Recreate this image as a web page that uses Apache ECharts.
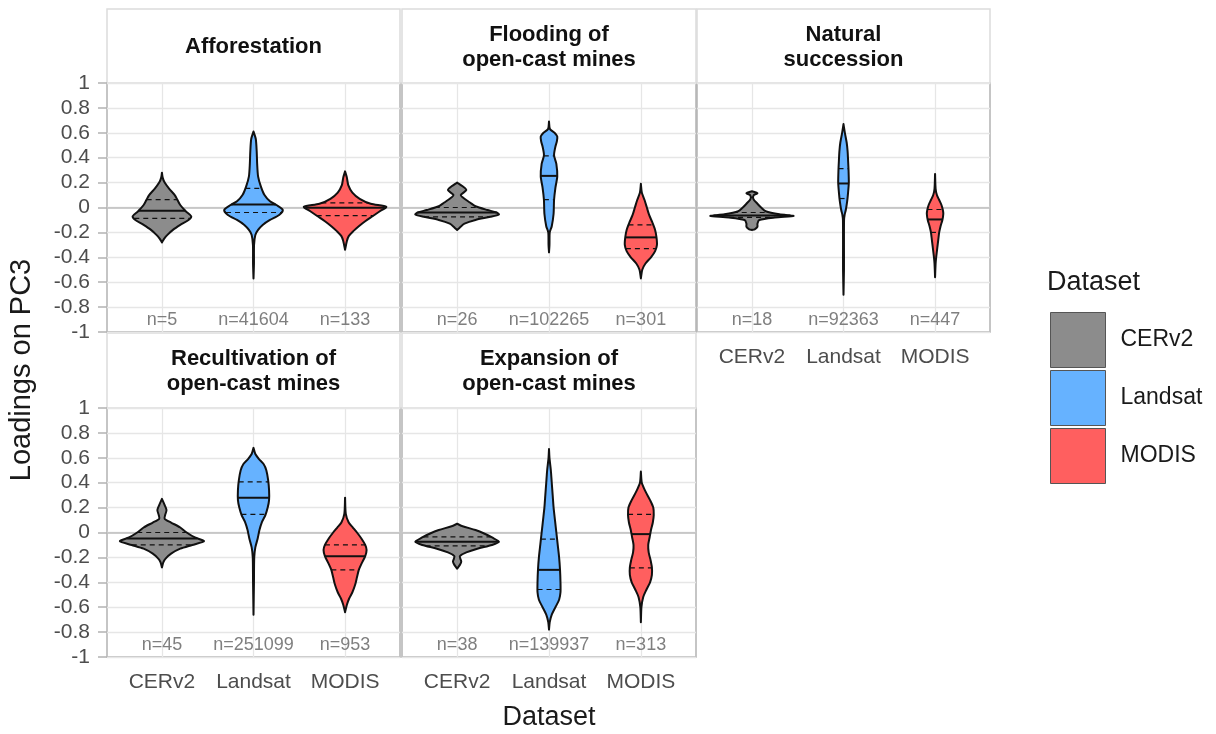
<!DOCTYPE html>
<html>
<head>
<meta charset="utf-8">
<style>
  html, body { margin: 0; padding: 0; background: #fff; }
  #main { width: 1216px; height: 734px; }
</style>
<script src="https://cdn.jsdelivr.net/npm/echarts@6.0.0/dist/echarts.min.js"></script>
</head>
<body>
<div id="main"></div>
<script>
var datasets = ['CERv2', 'Landsat', 'MODIS'];
var colors = ['#8c8c8c', '#66b2ff', '#ff5f5f'];
var panelTitles = ['Afforestation', 'Flooding of\nopen-cast mines', 'Natural\nsuccession',
  'Recultivation of\nopen-cast mines', 'Expansion of\nopen-cast mines'];
var yTickLabels = ['-1', '-0.8', '-0.6', '-0.4', '-0.2', '0', '0.2', '0.4', '0.6', '0.8', '1'];

// violin outlines: [loading, half width in category units]
// Afforestation
var affCer = [[0.28,0],[0.24,0.008],[0.2,0.03],[0.15,0.08],[0.1,0.14],[0.06,0.17],[0.02,0.2],[-0.03,0.26],[-0.07,0.32],[-0.1,0.29],[-0.14,0.2],[-0.18,0.12],[-0.22,0.06],[-0.25,0.025],[-0.28,0]];
var affLan = [[0.61,0],[0.55,0.025],[0.45,0.035],[0.35,0.04],[0.25,0.05],[0.17,0.08],[0.1,0.12],[0.05,0.18],[0.02,0.25],[-0.02,0.32],[-0.06,0.28],[-0.1,0.18],[-0.14,0.1],[-0.18,0.05],[-0.22,0.02],[-0.3,0.006],[-0.45,0.005],[-0.57,0]];
var affMod = [[0.29,0],[0.24,0.02],[0.18,0.035],[0.12,0.08],[0.07,0.16],[0.03,0.28],[0.005,0.45],[-0.03,0.38],[-0.07,0.3],[-0.11,0.22],[-0.15,0.15],[-0.19,0.09],[-0.23,0.04],[-0.27,0.02],[-0.34,0]];
// Flooding of open-cast mines
var floCer = [[0.2,0],[0.17,0.06],[0.14,0.1],[0.1,0.04],[0.07,0.08],[0.04,0.14],[0.01,0.2],[-0.02,0.33],[-0.04,0.43],[-0.056,0.455],[-0.075,0.36],[-0.1,0.2],[-0.13,0.08],[-0.16,0.03],[-0.18,0]];
var floLan = [[0.69,0],[0.63,0.01],[0.6,0.06],[0.57,0.09],[0.53,0.085],[0.49,0.07],[0.42,0.055],[0.35,0.08],[0.25,0.09],[0.16,0.07],[0.06,0.055],[-0.05,0.05],[-0.15,0.03],[-0.2,0.008],[-0.3,0.005],[-0.36,0]];
var floMod = [[0.19,0],[0.12,0.01],[0.06,0.04],[0.0,0.065],[-0.06,0.09],[-0.12,0.125],[-0.18,0.155],[-0.24,0.17],[-0.3,0.175],[-0.35,0.155],[-0.4,0.11],[-0.45,0.05],[-0.5,0.015],[-0.57,0]];
// Natural succession
var natCer = [[0.13,0],[0.115,0.06],[0.1,0.02],[0.07,0.015],[0.03,0.06],[0.0,0.1],[-0.03,0.15],[-0.055,0.3],[-0.068,0.455],[-0.08,0.25],[-0.1,0.08],[-0.13,0.06],[-0.155,0.06],[-0.175,0.03],[-0.18,0]];
var natLan = [[0.67,0],[0.6,0.015],[0.52,0.035],[0.45,0.045],[0.38,0.05],[0.3,0.055],[0.2,0.058],[0.12,0.05],[0.05,0.04],[-0.02,0.025],[-0.06,0.012],[-0.1,0.006],[-0.3,0.005],[-0.5,0.005],[-0.7,0]];
var natMod = [[0.27,0],[0.15,0.006],[0.1,0.02],[0.06,0.045],[0.02,0.07],[-0.02,0.085],[-0.05,0.09],[-0.1,0.08],[-0.15,0.06],[-0.2,0.045],[-0.26,0.035],[-0.32,0.025],[-0.4,0.012],[-0.45,0.006],[-0.56,0]];
// Recultivation of open-cast mines
var recCer = [[0.27,0],[0.22,0.03],[0.18,0.05],[0.14,0.035],[0.11,0.03],[0.08,0.1],[0.04,0.2],[0.0,0.27],[-0.04,0.36],[-0.07,0.46],[-0.1,0.33],[-0.13,0.2],[-0.17,0.1],[-0.21,0.04],[-0.24,0.015],[-0.28,0]];
var recLan = [[0.68,0],[0.63,0.02],[0.59,0.06],[0.55,0.11],[0.5,0.14],[0.42,0.16],[0.34,0.17],[0.26,0.17],[0.2,0.155],[0.14,0.13],[0.08,0.09],[0.02,0.065],[-0.05,0.045],[-0.12,0.02],[-0.2,0.008],[-0.4,0.005],[-0.66,0]];
var recMod = [[0.28,0],[0.15,0.008],[0.08,0.04],[0.04,0.085],[0.0,0.13],[-0.05,0.18],[-0.1,0.22],[-0.14,0.235],[-0.19,0.22],[-0.25,0.18],[-0.3,0.15],[-0.36,0.13],[-0.42,0.11],[-0.48,0.08],[-0.53,0.045],[-0.58,0.02],[-0.64,0]];
// Expansion of open-cast mines
var expCer = [[0.07,0],[0.05,0.06],[0.02,0.2],[-0.01,0.3],[-0.04,0.38],[-0.075,0.455],[-0.1,0.38],[-0.13,0.22],[-0.16,0.1],[-0.19,0.03],[-0.21,0.035],[-0.235,0.045],[-0.26,0.03],[-0.29,0]];
var expLan = [[0.67,0],[0.6,0.005],[0.5,0.02],[0.4,0.03],[0.3,0.04],[0.2,0.05],[0.1,0.065],[0.0,0.08],[-0.1,0.095],[-0.2,0.11],[-0.3,0.12],[-0.4,0.125],[-0.48,0.125],[-0.54,0.11],[-0.6,0.07],[-0.66,0.03],[-0.72,0.008],[-0.78,0]];
var expMod = [[0.49,0],[0.4,0.01],[0.33,0.05],[0.26,0.1],[0.2,0.135],[0.14,0.14],[0.08,0.13],[0.02,0.11],[-0.04,0.095],[-0.1,0.08],[-0.16,0.085],[-0.22,0.105],[-0.28,0.12],[-0.34,0.12],[-0.4,0.1],[-0.46,0.06],[-0.52,0.025],[-0.6,0.006],[-0.72,0]];

// quartiles (25 %, median, 75 %) per dataset
var affQuart = [[-0.088,-0.027,0.064],[-0.04,0.024,0.153],[-0.065,-0.003,0.037]];
var floQuart = [[-0.075,-0.04,0.0],[0.064,0.254,0.415],[-0.33,-0.24,-0.14]];
var natQuart = [[-0.08,-0.065,-0.04],[0.072,0.193,0.313],[-0.2,-0.096,-0.016]];
var recQuart = [[-0.1,-0.048,0.0],[0.145,0.28,0.407],[-0.3,-0.19,-0.1]];
var expQuart = [[-0.107,-0.075,-0.035],[-0.458,-0.3,-0.054],[-0.284,-0.013,0.145]];

// sample sizes
var affN = [5, 41604, 133];
var floN = [26, 102265, 301];
var natN = [18, 92363, 447];
var recN = [45, 251099, 953];
var expN = [38, 139937, 313];

var profiles = [[affCer, affLan, affMod], [floCer, floLan, floMod], [natCer, natLan, natMod],
  [recCer, recLan, recMod], [expCer, expLan, expMod]];
var quarts = [affQuart, floQuart, natQuart, recQuart, expQuart];
var counts = [affN, floN, natN, recN, expN];

// panel boxes
var panels = [
  { left: 107, top: 83, width: 293, showY: true, showX: false },
  { left: 402, top: 83, width: 294, showY: false, showX: false },
  { left: 697, top: 83, width: 293, showY: false, showX: true },
  { left: 107, top: 408, width: 293, showY: true, showX: true },
  { left: 402, top: 408, width: 294, showY: false, showX: true }
];
var PANEL_H = 249;
var FONT = '"Liberation Sans", Arial, sans-serif';

function widthAt(prof, y) {
  for (var i = 0; i < prof.length - 1; i++) {
    var a = prof[i], b = prof[i + 1];
    if (y <= a[0] && y >= b[0]) {
      var t = (a[0] - y) / (a[0] - b[0]);
      return a[1] + (b[1] - a[1]) * t;
    }
  }
  return 0;
}

function violin(prof, quart, n, pos) {
  return function (params, api) {
    var pts = [];
    for (var i = 0; i < prof.length; i++) pts.push(api.coord([pos + prof[i][1], prof[i][0]]));
    for (var j = prof.length - 1; j >= 0; j--) pts.push(api.coord([pos - prof[j][1], prof[j][0]]));
    var kids = [{
      type: 'polygon',
      shape: { points: pts, smooth: 0.25 },
      style: { fill: api.visual('color'), stroke: '#111', lineWidth: 2, lineJoin: 'round' }
    }];
    quart.forEach(function (q, k) {
      var w = widthAt(prof, q);
      var p1 = api.coord([pos - w, q]), p2 = api.coord([pos + w, q]);
      kids.push({
        type: 'line',
        shape: { x1: p1[0], y1: p1[1], x2: p2[0], y2: p2[1] },
        style: { stroke: '#111', lineWidth: k === 1 ? 2 : 1.2, lineDash: k === 1 ? null : [5, 4] }
      });
    });
    var tp = api.coord([pos, -0.9]);
    kids.push({
      type: 'text',
      style: { text: 'n=' + n, x: tp[0], y: tp[1], align: 'center', verticalAlign: 'middle',
        fill: '#7f7f7f', font: '18px ' + FONT }
    });
    return { type: 'group', children: kids };
  };
}

var grids = [], xAxes = [], yAxes = [], series = [], graphics = [];

panels.forEach(function (p, i) {
  grids.push({ left: p.left, top: p.top, width: p.width, height: PANEL_H, show: true,
    outerBoundsMode: 'none', containLabel: false,
    borderColor: '#b3b3b3', borderWidth: 1.5, backgroundColor: '#fff' });
  xAxes.push({
    gridIndex: i, type: 'value', min: 0.4, max: 3.6,
    name: i === 4 ? 'Dataset' : '', nameLocation: 'middle', nameGap: 47,
    nameTextStyle: { fontSize: 27, color: '#1a1a1a', fontFamily: FONT },
    axisLine: { show: false }, splitLine: { show: false },
    axisTick: { show: p.showX, customValues: [1, 2, 3], length: 9, lineStyle: { color: '#b3b3b3', width: 1.5 } },
    axisLabel: { show: p.showX, customValues: [1, 2, 3], margin: 15, fontSize: 21, color: '#4d4d4d', fontFamily: FONT,
      formatter: function (v) { return datasets[Math.round(v) - 1]; } }
  });
  yAxes.push({
    gridIndex: i, type: 'value', min: -1, max: 1, interval: 0.2,
    axisLine: { show: false },
    splitLine: { lineStyle: { color: '#e6e6e6', width: 1.3 } },
    axisTick: { show: p.showY, length: 9, lineStyle: { color: '#b3b3b3', width: 1.5 } },
    axisLabel: { show: p.showY, margin: 17, fontSize: 21, color: '#4d4d4d', fontFamily: FONT,
      formatter: function (v) { return yTickLabels[Math.round(v * 5) + 5]; } }
  });
  // vertical grid lines and the zero line
  series.push({
    type: 'line', xAxisIndex: i, yAxisIndex: i, data: [[1, 0]], symbol: 'none', z: 1,
    lineStyle: { opacity: 0 }, silent: true,
    markLine: { silent: true, symbol: 'none', z: 1, label: { show: false }, animation: false,
      lineStyle: { color: '#e6e6e6', width: 1.3, type: 'solid' },
      data: [{ xAxis: 1 }, { xAxis: 2 }, { xAxis: 3 },
        { yAxis: 0, lineStyle: { color: '#bdbdbd', width: 1.5, type: 'solid' } }] }
  });
  for (var d = 0; d < 3; d++) {
    series.push({
      type: 'custom', name: datasets[d], xAxisIndex: i, yAxisIndex: i, z: 3,
      itemStyle: { color: colors[d] },
      data: [[d + 1, 0]],
      renderItem: violin(profiles[i][d], quarts[i][d], counts[i][d], d + 1)
    });
  }
  // strip header
  var stripTop = p.top < 200 ? 9 : 333;
  graphics.push({
    type: 'rect', shape: { x: p.left, y: stripTop, width: p.width, height: p.top - stripTop },
    style: { fill: '#fff', stroke: '#dcdcdc', lineWidth: 1.5 }, z: 0
  });
  graphics.push({
    type: 'text', x: p.left + p.width / 2, y: stripTop + (p.top - stripTop) / 2 + 1,
    style: { text: panelTitles[i], align: 'center', verticalAlign: 'middle', lineHeight: 25,
      font: 'bold 22px ' + FONT, fill: '#111' }, z: 5
  });
});

graphics.push({
  type: 'text', x: 22, y: 370, rotation: Math.PI / 2,
  style: { text: 'Loadings on PC3', align: 'center', verticalAlign: 'middle',
    font: '29px ' + FONT, fill: '#1a1a1a' }
});

var chart = echarts.init(document.getElementById('main'), null, { renderer: 'canvas' });
chart.setOption({
  animation: false,
  backgroundColor: '#fff',
  title: { text: 'Dataset', left: 1042, top: 264,
    textStyle: { fontSize: 27, fontWeight: 'normal', color: '#1a1a1a', fontFamily: FONT } },
  legend: {
    data: datasets, orient: 'vertical', left: 1045, top: 307,
    itemWidth: 55, itemHeight: 55, itemGap: 2, icon: 'rect',
    itemStyle: { borderColor: '#555', borderWidth: 1 },
    textStyle: { fontSize: 23, color: '#1a1a1a', fontFamily: FONT, padding: [0, 0, 0, 10] },
    selectedMode: false
  },
  grid: grids,
  xAxis: xAxes,
  yAxis: yAxes,
  series: series,
  graphic: graphics
});
</script>
</body>
</html>
